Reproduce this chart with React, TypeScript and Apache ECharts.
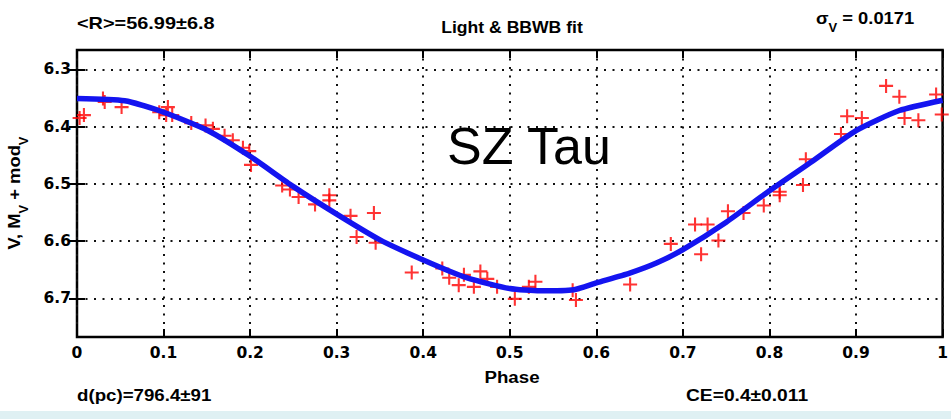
import React, { useEffect, useRef } from "react";
import * as echarts from "echarts";

// Observed photometry (phase, V magnitude)
const obsPhase = [
  0.003, 0.008, 0.030, 0.032, 0.0515, 0.095, 0.103, 0.105, 0.110, 0.132, 0.1485, 0.157,
  0.1705, 0.180, 0.1917, 0.199, 0.201, 0.237, 0.246, 0.256, 0.275, 0.2915, 0.2915,
  0.316, 0.323, 0.343, 0.345, 0.3867, 0.422, 0.430, 0.441, 0.447, 0.4585, 0.466,
  0.474, 0.4853, 0.5058, 0.522, 0.5296, 0.5726, 0.5764, 0.639, 0.686, 0.714, 0.7285,
  0.721, 0.741, 0.752, 0.770, 0.7934, 0.8118, 0.8118, 0.8387, 0.842, 0.8826, 0.8897,
  0.9067, 0.9347, 0.950, 0.956, 0.972, 0.9925, 0.999,
];
const obsMag = [
  6.385, 6.380, 6.351, 6.357, 6.366, 6.375, 6.380, 6.366, 6.380, 6.394, 6.398, 6.404,
  6.416, 6.424, 6.437, 6.443, 6.467, 6.503, 6.510, 6.523, 6.536, 6.520, 6.529,
  6.556, 6.593, 6.551, 6.603, 6.655, 6.648, 6.664, 6.677, 6.659, 6.680, 6.653,
  6.666, 6.680, 6.701, 6.680, 6.671, 6.686, 6.703, 6.676, 6.605, 6.571, 6.571,
  6.623, 6.599, 6.548, 6.551, 6.538, 6.514, 6.520, 6.502, 6.457, 6.413, 6.382,
  6.385, 6.329, 6.348, 6.385, 6.389, 6.344, 6.379,
];

// Light & BBWB fit curve
const fitPhase = [
  0, 0.055, 0.1, 0.15, 0.2, 0.25, 0.3, 0.35, 0.4, 0.45, 0.5, 0.535, 0.574, 0.6, 0.6385,
  0.67, 0.7, 0.75, 0.8, 0.85, 0.9, 0.95, 1.0,
];
const fitMag = [
  6.351, 6.355, 6.375, 6.406, 6.452, 6.505, 6.553, 6.598, 6.633, 6.664, 6.683, 6.687,
  6.685, 6.673, 6.656, 6.638, 6.615, 6.567, 6.512, 6.46, 6.407, 6.372, 6.354,
];

const yTickValues = [6.3, 6.4, 6.5, 6.6, 6.7];
const yMin = 6.2663;
const yMax = 6.7676;

const FONT = "Liberation Sans";
const TICK_FONT = "DejaVu Sans";
const crossPath =
  "path://M4.25,0h1.5v4.25h4.25v1.5h-4.25v4.25h-1.5v-4.25h-4.25v-1.5h4.25z";

export default function App() {
  const ref = useRef<HTMLDivElement>(null);
  useEffect(() => {
    if (!ref.current) return;
    const chart = echarts.init(ref.current, undefined, { renderer: "svg" });
    const dotted = { color: "#111", width: 2, type: [2, 6.5] as number[] };
    const tickStyle = { color: "#000", width: 2 };
    const labelStyle = {
      color: "#000",
      fontFamily: TICK_FONT,
      fontWeight: "bold" as const,
      fontSize: 15.5,
    };
    const txt = (
      x: number,
      y: number,
      text: string,
      size: number,
      sx: number,
      align: string = "left"
    ) => ({
      type: "text",
      x,
      y,
      scaleX: sx,
      style: {
        text,
        fill: "#000",
        font: `bold ${size}px "${FONT}"`,
        align,
        verticalAlign: "middle",
      },
    });
    const rich = {
      a: { font: `bold 17px "${FONT}"`, fill: "#000", lineHeight: 24, verticalAlign: "top" },
      s: { font: `bold 12px "${FONT}"`, fill: "#000", lineHeight: 24, verticalAlign: "bottom" },
    };
    chart.setOption({
      animation: false,
      backgroundColor: "#fff",
      grid: {
        left: 77,
        right: 5,
        top: 50,
        bottom: 82,
        show: true,
        borderColor: "#000",
        borderWidth: 2.5,
        containLabel: false,
      },
      xAxis: [
        {
          type: "value",
          min: 0,
          max: 1,
          interval: 0.1,
          position: "bottom",
          axisLine: { show: false },
          axisTick: { show: true, inside: true, length: 8, lineStyle: tickStyle },
          axisLabel: {
            ...labelStyle,
            margin: 8,
            formatter: (v: number) =>
              v === 0 ? "0" : Math.abs(v - 1) < 1e-9 ? "1" : v.toFixed(1),
          },
          splitLine: { show: true, lineStyle: dotted },
        },
        {
          type: "value",
          min: 0,
          max: 1,
          interval: 0.1,
          position: "top",
          axisLine: { show: false },
          axisTick: { show: true, inside: true, length: 8, lineStyle: tickStyle },
          axisLabel: { show: false },
          splitLine: { show: false },
        },
      ],
      yAxis: [
        {
          type: "value",
          inverse: true,
          min: yMin,
          max: yMax,
          position: "left",
          axisLine: { show: false },
          axisTick: {
            show: true,
            inside: true,
            length: 8,
            lineStyle: tickStyle,
            customValues: yTickValues,
          },
          axisLabel: {
            ...labelStyle,
            margin: 6,
            customValues: yTickValues,
            formatter: (v: number) => v.toFixed(1),
          },
          splitLine: { show: true, lineStyle: dotted },
        },
        {
          type: "value",
          inverse: true,
          min: yMin,
          max: yMax,
          position: "right",
          axisLine: { show: false },
          axisTick: {
            show: true,
            inside: true,
            length: 8,
            lineStyle: tickStyle,
            customValues: yTickValues,
          },
          axisLabel: { show: false, customValues: yTickValues },
          splitLine: { show: false },
        },
      ],
      series: [
        {
          type: "scatter",
          name: "obs",
          xAxisIndex: 0,
          yAxisIndex: 0,
          data: obsPhase.map((p, i) => [p, obsMag[i]]),
          symbol: crossPath,
          symbolSize: 14,
          itemStyle: { color: "#ff0000" },
          z: 2,
        },
        {
          type: "line",
          name: "fit",
          xAxisIndex: 0,
          yAxisIndex: 0,
          data: fitPhase.map((p, i) => [p, fitMag[i]]),
          smooth: 0.2,
          showSymbol: false,
          lineStyle: { color: "#1414f0", width: 5.5 },
          z: 3,
        },
      ],
      graphic: [
        {
          type: "rect",
          shape: { x: 0, y: 411, width: 951, height: 8 },
          style: { fill: "#dff0f3" },
          silent: true,
        },
        txt(77, 23, "<R>=56.99±6.8", 17, 1.17),
        txt(512, 28, "Light & BBWB fit", 16, 1.1, "center"),
        {
          type: "text",
          x: 816,
          y: 22,
          scaleX: 1.08,
          style: {
            text: "{a|σ}{s|V}{a| = 0.0171}",
            align: "left",
            verticalAlign: "middle",
            rich,
          },
        },
        txt(77, 395, "d(pc)=796.4±91", 17, 1.1),
        txt(686, 395, "CE=0.4±0.011", 17, 1.13),
        txt(512, 377, "Phase", 17, 1.1, "center"),
        {
          type: "text",
          x: 18,
          y: 193,
          rotation: Math.PI / 2,
          scaleX: 1.08,
          style: {
            text: "{a|V, M}{s|V}{a| + mod}{s|V}",
            align: "center",
            verticalAlign: "middle",
            rich,
          },
        },
        {
          type: "text",
          x: 447,
          y: 146,
          style: {
            text: "SZ Tau",
            fill: "#000",
            font: `normal 52px "${FONT}"`,
            align: "left",
            verticalAlign: "middle",
          },
        },
      ],
    });
    return () => chart.dispose();
  }, []);
  return (
    <div
      ref={ref}
      style={{ position: "absolute", left: 0, top: 0, width: 951, height: 419 }}
    />
  );
}
